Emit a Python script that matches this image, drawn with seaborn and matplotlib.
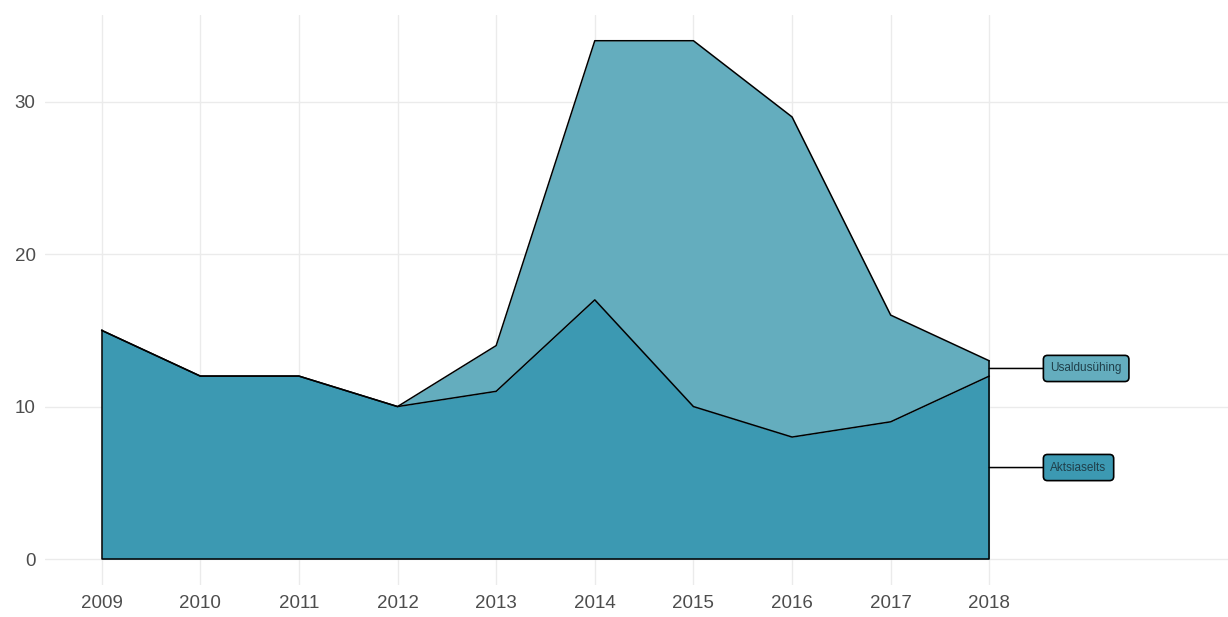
import numpy as np
import pandas as pd
import matplotlib
matplotlib.use("Agg")
import matplotlib.pyplot as plt
import seaborn as sns

sns.set_theme(style="whitegrid")
plt.rcParams['font.family'] = ['Liberation Sans', 'DejaVu Sans']

years = [2009, 2010, 2011, 2012, 2013, 2014, 2015, 2016, 2017, 2018]
aktsiaselts = [15, 12, 12, 10, 11, 17, 10, 8, 9, 12]
usaldusuhing = [0, 0, 0, 0, 3, 17, 24, 21, 7, 1]
series_names = ["Aktsiaselts", "Usaldusühing"]
colors = ["#3C99B2", "#64ADBE"]

df = pd.DataFrame({"year": years, "Aktsiaselts": aktsiaselts, "Usaldusühing": usaldusuhing})
df["top1"] = df["Aktsiaselts"]
df["top2"] = df["Aktsiaselts"] + df["Usaldusühing"]

fig = plt.figure(figsize=(12.28, 6.17), dpi=100)
ax = fig.add_axes([0.037, 0.052, 0.963, 0.924])

# stacked areas
ax.fill_between(df["year"], 0, df["top1"], color=colors[0], lw=0, zorder=2)
ax.fill_between(df["year"], df["top1"], df["top2"], color=colors[1], lw=0, zorder=2)

# outlines
sns.lineplot(data=df, x="year", y="top1", color="black", lw=1.1, ax=ax, zorder=3)
sns.lineplot(data=df, x="year", y="top2", color="black", lw=1.1, ax=ax, zorder=3)
ax.plot([years[0], years[0], years[-1], years[-1]],
        [df["top2"].iloc[0], 0, 0, df["top2"].iloc[-1]], color="black", lw=1.1, zorder=3)

# labels at the right end
last = len(years) - 1
label_y = [df["top1"].iloc[last] / 2, (df["top1"].iloc[last] + df["top2"].iloc[last]) / 2]
for name, yv, col in zip(series_names, label_y, colors):
    ax.annotate(name, xy=(years[-1], yv), xytext=(years[-1] + 0.62, yv),
                ha="left", va="center", fontsize=8.5, color="#1f3f4a",
                bbox=dict(boxstyle="round,pad=0.6,rounding_size=0.35", fc=col, ec="black", lw=1.2),
                arrowprops=dict(arrowstyle="-", color="black", lw=1.1, shrinkA=0, shrinkB=0),
                zorder=4)

ax.set_xlim(2008.43, 2020.42)
ax.set_ylim(-1.7, 35.7)
ax.set_xticks(years)
ax.set_yticks([0, 10, 20, 30])
ax.set_xlabel("")
ax.set_ylabel("")
ax.grid(True, color="#EBEBEB", lw=1.0)
ax.tick_params(axis="both", labelsize=13.5, labelcolor="#4D4D4D", length=0, pad=7)
for s in ax.spines.values():
    s.set_visible(False)

plt.savefig("out.png", dpi=100)
